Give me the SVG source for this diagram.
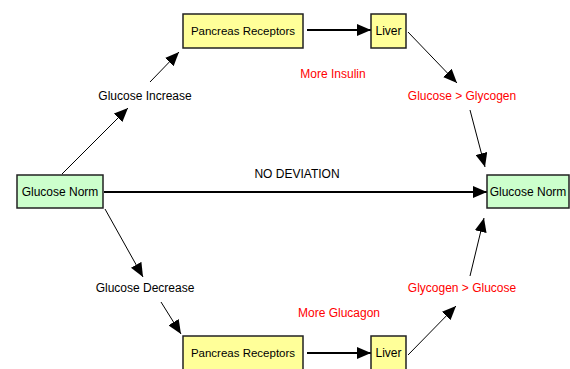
<svg xmlns="http://www.w3.org/2000/svg" width="570" height="369" viewBox="0 0 570 369">
<style>
text{font-family:"Liberation Sans",Arial,sans-serif;font-size:12px;text-anchor:middle;dominant-baseline:central}
.y{fill:#FFFF99;stroke:#222;stroke-width:1.5}
.g{fill:#CCFFCC;stroke:#222;stroke-width:1.5}
.r{fill:#FF0000}
.l{stroke:#000;stroke-width:1;fill:none;marker-end:url(#a)}
.t{stroke:#000;stroke-width:2;fill:none;marker-end:url(#a2)}
</style>
<defs>
<marker id="a" markerUnits="userSpaceOnUse" markerWidth="14" markerHeight="12" refX="14" refY="6" orient="auto"><path d="M0,0 L14,6 L0,12 Z" fill="#000"/></marker>
<marker id="a2" markerUnits="userSpaceOnUse" markerWidth="14" markerHeight="12" refX="14" refY="6" orient="auto"><path d="M0,0 L14,6 L0,12 Z" fill="#000"/></marker>
</defs>
<rect width="570" height="369" fill="#fff"/>
<g id="connectors">
<line class="l" x1="62" y1="174" x2="128" y2="108"/>
<line class="l" x1="150" y1="82" x2="179" y2="52"/>
<line class="t" x1="307" y1="30" x2="371" y2="30"/>
<line class="l" x1="408" y1="32" x2="457" y2="83"/>
<line class="l" x1="470" y1="110" x2="485" y2="167"/>
<line class="t" x1="104" y1="192" x2="487" y2="192"/>
<line class="l" x1="105" y1="209" x2="143" y2="277"/>
<line class="l" x1="161" y1="302" x2="181" y2="334"/>
<line class="t" x1="307" y1="353" x2="371" y2="353"/>
<line class="l" x1="408" y1="355" x2="456" y2="306"/>
<line class="l" x1="470" y1="276" x2="484" y2="218"/>
</g>
<g id="glucose-norm-left"><rect class="g" x="17" y="175" width="86" height="33"/><text x="60" y="191.5">Glucose Norm</text></g>
<g id="glucose-norm-right"><rect class="g" x="487" y="175" width="82" height="33"/><text x="528" y="191.5">Glucose Norm</text></g>
<g id="pancreas-top"><rect class="y" x="183" y="14" width="120" height="34"/><text x="243" y="31" style="font-size:11.5px">Pancreas Receptors</text></g>
<g id="liver-top"><rect class="y" x="371" y="14" width="35" height="34"/><text x="388.5" y="31">Liver</text></g>
<g id="pancreas-bottom"><rect class="y" x="183" y="336" width="120" height="34"/><text x="243" y="353" style="font-size:11.5px">Pancreas Receptors</text></g>
<g id="liver-bottom"><rect class="y" x="371" y="336" width="35" height="34"/><text x="388.5" y="353">Liver</text></g>
<g id="glucose-increase"><text x="145" y="96">Glucose Increase</text></g>
<g id="glucose-decrease"><text x="145" y="288">Glucose Decrease</text></g>
<g id="no-deviation"><text x="297" y="174">NO DEVIATION</text></g>
<g id="more-insulin"><text class="r" x="333" y="74">More Insulin</text></g>
<g id="glucose-glycogen"><text class="r" x="462" y="96">Glucose &gt; Glycogen</text></g>
<g id="more-glucagon"><text class="r" x="339" y="313">More Glucagon</text></g>
<g id="glycogen-glucose"><text class="r" x="462" y="288">Glycogen &gt; Glucose</text></g>
</svg>
